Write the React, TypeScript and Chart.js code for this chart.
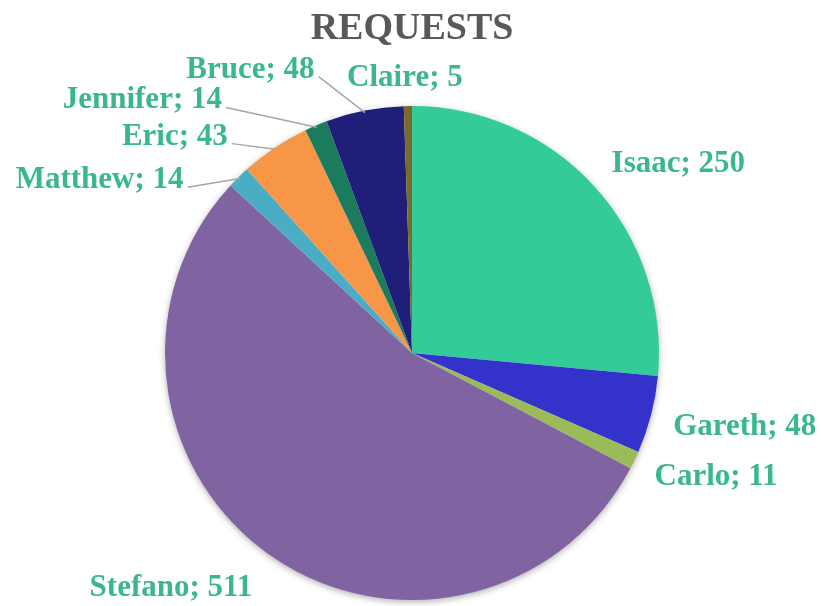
import React, { useEffect, useRef } from "react";
import { Chart, registerables } from "chart.js";

Chart.register(...registerables);

const chartTitle = "REQUESTS";
const categories = ["Isaac", "Gareth", "Carlo", "Stefano", "Matthew", "Eric", "Jennifer", "Bruce", "Claire"];
const requests = [250, 48, 11, 511, 14, 43, 14, 48, 5];
const sliceColors = ["#33CC99", "#3333CC", "#9BBB59", "#8064A2", "#4BACC6", "#F79646", "#1C7B5C", "#1F1F7A", "#7A6B2C"];

// label placement relative to the arc's outer mid-point
const labelDx = [17, 22, 20, -17, -55, -47, -94, -50, -3];
const labelDy = [-15, 20, 25, 41, 11, -3, -17, -33, -20];
const labelAlign: CanvasTextAlign[] = ["left", "left", "left", "right", "right", "right", "right", "right", "center"];
const labelLeader = [false, false, false, false, true, true, true, true, false];

const LABEL_FONT = "bold 31px 'Liberation Serif', 'Times New Roman', serif";
const LABEL_COLOR = "#3AB88B";

const shadowPlugin = {
  id: "pieShadow",
  beforeDatasetsDraw(chart: any) {
    const arc = chart.getDatasetMeta(0).data[0];
    if (!arc) return;
    const { x, y, outerRadius } = arc.getProps(["x", "y", "outerRadius"], true);
    const ctx = chart.ctx;
    ctx.save();
    ctx.shadowColor = "rgba(0,0,0,0.35)";
    ctx.shadowBlur = 7;
    ctx.shadowOffsetY = 2;
    ctx.fillStyle = "#ffffff";
    ctx.beginPath();
    ctx.arc(x, y, outerRadius - 0.5, 0, Math.PI * 2);
    ctx.fill();
    ctx.restore();
  },
};

const labelPlugin = {
  id: "pieLabels",
  afterDatasetsDraw(chart: any) {
    const ctx = chart.ctx;
    const meta = chart.getDatasetMeta(0);
    ctx.save();
    // title
    ctx.font = "bold 38px 'Liberation Serif', 'Times New Roman', serif";
    ctx.fillStyle = "#595959";
    ctx.textAlign = "center";
    ctx.textBaseline = "alphabetic";
    ctx.fillText(chartTitle, 412, 39);

    ctx.font = LABEL_FONT;
    meta.data.forEach((el: any, i: number) => {
      const { x, y, startAngle, endAngle, outerRadius } = el.getProps(
        ["x", "y", "startAngle", "endAngle", "outerRadius"],
        true
      );
      const mid = (startAngle + endAngle) / 2;
      const ax = x + Math.cos(mid) * outerRadius;
      const ay = y + Math.sin(mid) * outerRadius;
      const tx = ax + labelDx[i];
      const ty = ay + labelDy[i];
      const text = `${categories[i]}; ${requests[i]}`;
      ctx.textAlign = labelAlign[i];
      ctx.fillStyle = LABEL_COLOR;
      ctx.fillText(text, tx, ty);
      if (labelLeader[i]) {
        const w = ctx.measureText(text).width;
        const right = labelAlign[i] === "right" ? tx : labelAlign[i] === "center" ? tx + w / 2 : tx + w;
        ctx.strokeStyle = "#A6A6A6";
        ctx.lineWidth = 1.5;
        ctx.beginPath();
        ctx.moveTo(right + 4, ty - 1);
        ctx.lineTo(x + Math.cos(mid) * (outerRadius - 2), y + Math.sin(mid) * (outerRadius - 2));
        ctx.stroke();
      }
    });
    ctx.restore();
  },
};

export default function App() {
  const canvasRef = useRef<HTMLCanvasElement | null>(null);

  useEffect(() => {
    if (!canvasRef.current) return;
    const chart = new Chart(canvasRef.current, {
      type: "pie",
      data: {
        labels: categories,
        datasets: [
          {
            data: requests,
            backgroundColor: sliceColors,
            borderWidth: 0,
          },
        ],
      },
      options: {
        animation: false,
        responsive: true,
        maintainAspectRatio: false,
        layout: { padding: { top: 106, bottom: 6, left: 165, right: 162 } },
        plugins: {
          legend: { display: false },
          title: { display: false },
          tooltip: { enabled: false },
        },
      },
      plugins: [shadowPlugin, labelPlugin],
    });
    return () => chart.destroy();
  }, []);

  return (
    <div style={{ position: "absolute", left: 0, top: 0, width: 821, height: 606, background: "#ffffff" }}>
      <canvas ref={canvasRef} />
    </div>
  );
}
